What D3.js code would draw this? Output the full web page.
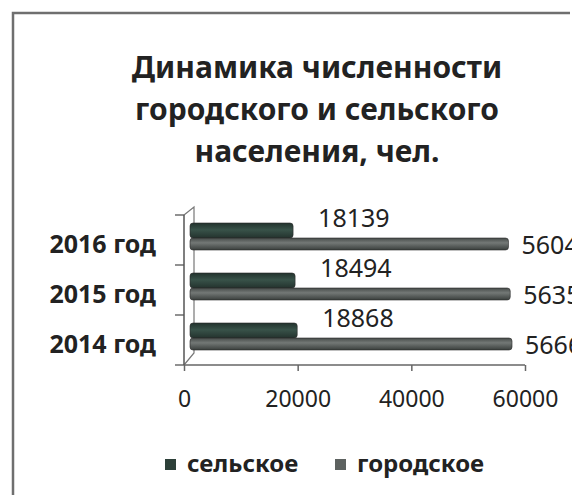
<!DOCTYPE html>
<html>
<head>
<meta charset="utf-8">
<script src="https://cdn.jsdelivr.net/npm/d3@7"></script>
<style>
  body { margin: 0; background: #fff; }
  svg { display: block; }
  text { font-family: "Noto Sans", "Open Sans", sans-serif; fill: #222; }
</style>
</head>
<body>
<div class="chart"></div>
<script>
var svgWidth = 572;
var svgHeight = 495;

// data (urban values are cut off in the scan, estimated)
var categories = ["2014 год", "2015 год", "2016 год"];
var seriesNames = ["сельское", "городское"];
var rural = [18868, 18494, 18139];
var urban = [56660, 56350, 56040];
var xTicks = [0, 20000, 40000, 60000];
var titleLines = ["Динамика численности", "городского и сельского", "населения, чел."];

var colors = { "сельское": "#2d4039", "городское": "#5d6260" };

var margin = { top: 215, left: 184, right: 41, bottom: 130 };
var width = svgWidth - margin.left - margin.right;
var height = svgHeight - margin.top - margin.bottom;
var depth = 6;

var data = categories.map(function(c, i) {
  return { cat: c, values: [
    { key: "сельское", value: rural[i] },
    { key: "городское", value: urban[i] }
  ] };
});

var svg = d3.select(".chart")
  .append("svg")
  .attr("width", svgWidth)
  .attr("height", svgHeight);

// gradients for the pseudo-3d bars
var defs = svg.append("defs");
var g1 = defs.append("linearGradient").attr("id", "gRural").attr("x1", 0).attr("y1", 0).attr("x2", 0).attr("y2", 1);
g1.append("stop").attr("offset", "0%").attr("stop-color", "#22322d");
g1.append("stop").attr("offset", "45%").attr("stop-color", "#385249");
g1.append("stop").attr("offset", "100%").attr("stop-color", "#24332e");
var g2 = defs.append("linearGradient").attr("id", "gUrban").attr("x1", 0).attr("y1", 0).attr("x2", 0).attr("y2", 1);
g2.append("stop").attr("offset", "0%").attr("stop-color", "#464b49");
g2.append("stop").attr("offset", "40%").attr("stop-color", "#737876");
g2.append("stop").attr("offset", "100%").attr("stop-color", "#3a3f3d");
var fills = { "сельское": "url(#gRural)", "городское": "url(#gUrban)" };

// outer frame (only top and left visible in the scan)
svg.append("path")
  .attr("d", "M570,13H13V500")
  .attr("fill", "none")
  .attr("stroke", "#6f6f6f")
  .attr("stroke-width", 2.5);

// title
svg.append("text")
  .attr("text-anchor", "middle")
  .attr("font-size", 30)
  .attr("font-weight", "bold")
  .selectAll("tspan")
  .data(titleLines)
  .enter()
  .append("tspan")
  .attr("x", 317)
  .attr("y", (d, i) => 78 + i * 42)
  .text(d => d);

var chartGroup = svg.append("g")
  .attr("transform", `translate(${margin.left}, ${margin.top})`);

var xScale = d3.scaleLinear()
  .domain([0, 60000])
  .range([0, width - 6]);

var yScale = d3.scaleBand()
  .domain(categories.slice().reverse())
  .range([0, height]);

var inner = d3.scaleBand()
  .domain(seriesNames)
  .range([8, 38]);

// 3d back wall / floor lines
chartGroup.append("path")
  .attr("d", `M0,0L${depth + 4},-8V${height - 12}L0,${height}`)
  .attr("fill", "none")
  .attr("stroke", "#777")
  .attr("stroke-width", 1.2);

// y axis with ticks at the band edges
chartGroup.append("line")
  .attr("x1", 0).attr("x2", 0)
  .attr("y1", 0).attr("y2", height)
  .attr("stroke", "#555").attr("stroke-width", 1.5);
chartGroup.selectAll(".ytick")
  .data(d3.range(categories.length + 1))
  .enter()
  .append("line")
  .attr("x1", -9).attr("x2", 0)
  .attr("y1", d => d * yScale.step())
  .attr("y2", d => d * yScale.step())
  .attr("stroke", "#555").attr("stroke-width", 1.3);

chartGroup.selectAll(".ylabel")
  .data(categories)
  .enter()
  .append("text")
  .attr("x", -28)
  .attr("y", d => yScale(d) + yScale.bandwidth() / 2 + 6)
  .attr("text-anchor", "end")
  .attr("dominant-baseline", "middle")
  .attr("font-size", 25)
  .attr("font-weight", "bold")
  .attr("fill", "#222")
  .text(d => d);

// x axis
var bottomAxis = d3.axisBottom(xScale)
  .tickValues(xTicks)
  .tickSize(6)
  .tickPadding(20)
  .tickFormat(d3.format("d"));
var xAxisG = chartGroup.append("g")
  .attr("transform", `translate(0, ${height})`)
  .call(bottomAxis);
xAxisG.select(".domain").attr("stroke", "#666").attr("stroke-width", 1.5).attr("d", `M0,0H${xScale(60000)}`);
xAxisG.selectAll(".tick line").attr("stroke", "#666").attr("stroke-width", 1.5);
xAxisG.selectAll(".tick text")
  .attr("font-size", 23)
  .attr("font-family", "Noto Sans, sans-serif")
  .attr("fill", "#3a3a3a");

// bars
var groups = chartGroup.selectAll(".cat")
  .data(data)
  .enter()
  .append("g")
  .attr("transform", d => `translate(${depth}, ${yScale(d.cat)})`);

groups.selectAll("rect")
  .data(d => d.values)
  .enter()
  .append("rect")
  .attr("x", 0)
  .attr("y", d => inner(d.key))
  .attr("width", d => xScale(d.value))
  .attr("height", d => d.key === "сельское" ? inner.bandwidth() : inner.bandwidth() - 3)
  .attr("rx", 3)
  .attr("fill", d => fills[d.key])
  .attr("stroke", "#2a2a2a")
  .attr("stroke-width", 0.6);

// value labels
groups.selectAll(".val")
  .data(d => d.values)
  .enter()
  .append("text")
  .attr("x", d => d.key === "сельское" ? xScale(d.value) + 25 : xScale(d.value) + 13)
  .attr("y", d => d.key === "сельское" ? inner(d.key) + inner.bandwidth() / 2 - 10 : inner(d.key) + inner.bandwidth() / 2 + 2)
  .attr("dominant-baseline", "middle")
  .attr("font-size", 25)
  .attr("fill", "#2a2a2a")
  .text(d => d.value);

// legend
var legend = svg.append("g")
  .attr("transform", "translate(0, 465)");
var legendX = [165, 335];
seriesNames.forEach(function(name, i) {
  legend.append("rect")
    .attr("x", legendX[i])
    .attr("y", -6)
    .attr("width", 11)
    .attr("height", 11)
    .attr("fill", colors[name]);
  legend.append("text")
    .attr("x", legendX[i] + 22)
    .attr("y", 0)
    .attr("dominant-baseline", "middle")
    .attr("font-size", 24)
    .attr("font-weight", "bold")
    .attr("fill", "#2a2a2a")
    .text(name);
});
</script>
</body>
</html>
